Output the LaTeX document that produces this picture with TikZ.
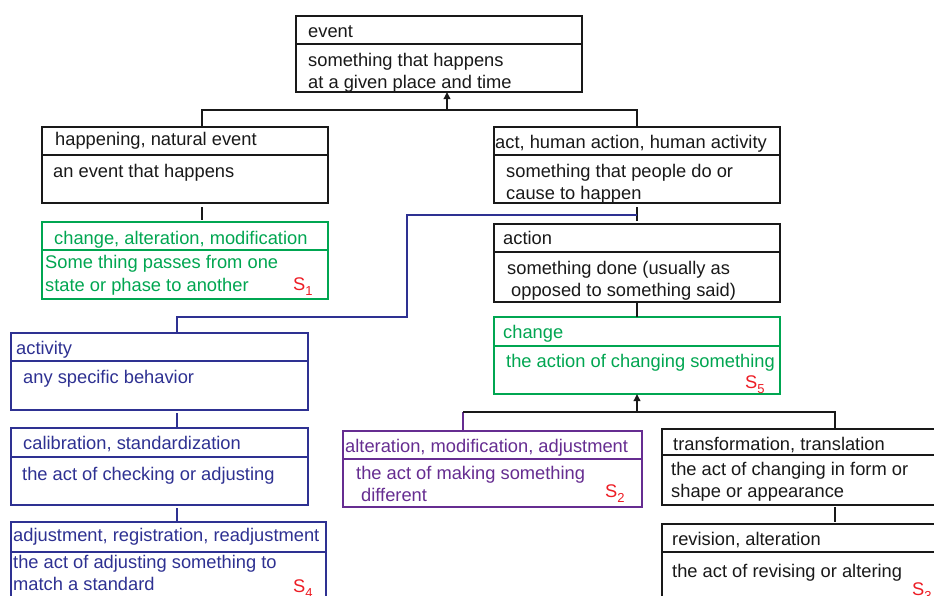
\documentclass[tikz,border=0pt]{standalone}
\usepackage{fontspec}
\setmainfont{Liberation Sans}
\usetikzlibrary{arrows.meta}

\definecolor{inkblack}{RGB}{25,25,25}
\definecolor{leafgreen}{RGB}{0,166,81}
\definecolor{navy}{RGB}{46,49,146}
\definecolor{plum}{RGB}{102,45,145}
\definecolor{sensered}{RGB}{237,28,36}

\tikzset{
  frame/.style={draw=#1, line width=1.2pt, inner sep=0pt, outer sep=0pt, anchor=north west},
  rule/.style={draw=#1, line width=1.2pt},
  lbl/.style={text=#1, font=\fontsize{18.3}{22}\selectfont, inner sep=0pt, anchor=base west},
  sense/.style={text=sensered, font=\fontsize{18.3}{22}\selectfont, inner sep=0pt, anchor=base west},
  conn/.style={draw=#1, line width=1.8pt},
  conn/.default=inkblack,
  uptip/.style={-{Triangle[length=7pt,width=6.5pt]}}
}

% a two-part gloss box: name, colour, left, top, right, bottom, divider
\newcommand\glossbox[7]{%
  \node[frame=#2, minimum width={(#5-#3)*1pt}, minimum height={(#6-#4)*1pt}] (#1) at (#3,#4) {};
  \draw[rule=#2] (#1.north west |- 0,#7) -- (#1.north east |- 0,#7);
}
% sense number S with a lowered index
\newcommand\sensemark[1]{S\raisebox{-5pt}{\fontsize{13}{13}\selectfont #1}}

\begin{document}
\begin{tikzpicture}[x=1pt,y=-1pt]
\useasboundingbox (0,0) rectangle (934,595);
\clip (0,0) rectangle (934,595);
\fill[white] (0,0) rectangle (934,595);

% boxes
\glossbox{event}{inkblack}{296}{16}{582}{92}{44}
\glossbox{happening}{inkblack}{42}{127}{328}{203}{155}
\glossbox{changeA}{leafgreen}{42}{222}{328}{299}{250}
\glossbox{act}{inkblack}{494}{127}{780}{203}{155}
\glossbox{action}{inkblack}{494}{224}{780}{302}{252}
\glossbox{changeB}{leafgreen}{494}{317}{780}{394}{346}
\glossbox{alteration}{plum}{343}{431}{642}{507}{459}
\glossbox{transform}{inkblack}{662}{429}{950}{505}{455}
\glossbox{revision}{inkblack}{662}{524}{950}{620}{552}
\glossbox{activity}{navy}{11}{333}{308}{410}{361}
\glossbox{calibration}{navy}{11}{428}{308}{505}{457}
\glossbox{adjustment}{navy}{11}{522}{326}{620}{552}

% texts
\node[lbl=inkblack] (event-t) at (308,37) {event};
\node[lbl=inkblack] (event-d1) at (308,66) {something that happens};
\node[lbl=inkblack] (event-d2) at (308,88) {at a given place and time};

\node[lbl=inkblack] (happening-t) at (55,145) {happening, natural event};
\node[lbl=inkblack] (happening-d) at (53,177) {an event that happens};

\node[lbl=leafgreen] (changeA-t) at (54,244) {change, alteration, modification};
\node[lbl=leafgreen] (changeA-d1) at (45,268) {Some thing passes from one};
\node[lbl=leafgreen] (changeA-d2) at (45,291) {state or phase to another};
\node[sense] (s1) at (293,290) {\sensemark{1}};

\node[lbl=inkblack] (act-t) at (495,148) {act, human action, human activity};
\node[lbl=inkblack] (act-d1) at (506,177) {something that people do or};
\node[lbl=inkblack] (act-d2) at (506,199) {cause to happen};

\node[lbl=inkblack] (action-t) at (503,244) {action};
\node[lbl=inkblack] (action-d1) at (507,274) {something done (usually as};
\node[lbl=inkblack] (action-d2) at (511,296) {opposed to something said)};

\node[lbl=leafgreen] (changeB-t) at (503,338) {change};
\node[lbl=leafgreen] (changeB-d) at (506,367) {the action of changing something};
\node[sense] (s5) at (745,388) {\sensemark{5}};

\node[lbl=plum] (alteration-t) at (345,452) {alteration, modification, adjustment};
\node[lbl=plum] (alteration-d1) at (356,479) {the act of making something};
\node[lbl=plum] (alteration-d2) at (361,501) {different};
\node[sense] (s2) at (605,497) {\sensemark{2}};

\node[lbl=inkblack] (transform-t) at (673,450) {transformation, translation};
\node[lbl=inkblack] (transform-d1) at (671,475) {the act of changing in form or};
\node[lbl=inkblack] (transform-d2) at (671,497) {shape or appearance};

\node[lbl=inkblack] (revision-t) at (672,545) {revision, alteration};
\node[lbl=inkblack] (revision-d) at (672,577) {the act of revising or altering};
\node[sense] (s3) at (912,595) {\sensemark{3}};

\node[lbl=navy] (activity-t) at (16,354) {activity};
\node[lbl=navy] (activity-d) at (23,383) {any specific behavior};

\node[lbl=navy] (calibration-t) at (23,449) {calibration, standardization};
\node[lbl=navy] (calibration-d) at (22,480) {the act of checking or adjusting};

\node[lbl=navy] (adjustment-t) at (13,541) {adjustment, registration, readjustment};
\node[lbl=navy] (adjustment-d1) at (13,568) {the act of adjusting something to};
\node[lbl=navy] (adjustment-d2) at (13,590) {match a standard};
\node[sense] (s4) at (293,592) {\sensemark{4}};

% junction points of the connectors
\coordinate (hubL) at (202,110);
\coordinate (hubR) at (637,110);
\coordinate (hubUp) at (447,110);
\coordinate (blueFork) at (637,215);
\coordinate (blueKnee) at (407,317);
\coordinate (leftTrunk) at (177,0);
\coordinate (lowL) at (463,412);
\coordinate (lowR) at (835,412);
\coordinate (lowUp) at (637,412);

% upper hierarchy
\draw[conn] (happening.north -| hubL) -- (hubL) -- (hubR) -- (act.north);
\draw[conn, uptip] (hubUp) -- (event.south -| hubUp);
\draw[conn, shorten <=4pt, shorten >=2pt] (happening.south -| hubL) -- (changeA.north -| hubL);
\draw[conn, shorten <=4pt, shorten >=3pt] (act.south) -- (action.north);
\draw[conn] (action.south) -- (changeB.north);

% branch to the activity chain
\draw[conn=navy] (blueFork) -| (blueKnee) -| (activity.north -| leftTrunk);
\draw[conn=navy, shorten <=3pt, shorten >=1pt] (activity.south -| leftTrunk) -- (calibration.north -| leftTrunk);
\draw[conn=navy, shorten <=3pt] (calibration.south -| leftTrunk) -- (adjustment.north -| leftTrunk);

% lower hierarchy
\draw[conn=plum] (alteration.north -| lowL) -- (lowL);
\draw[conn] (lowL) -- (lowR) -- (transform.north -| lowR);
\draw[conn, uptip] (lowUp) -- (changeB.south);
\draw[conn, shorten <=2pt, shorten >=2pt] (transform.south -| lowR) -- (revision.north -| lowR);
\end{tikzpicture}
\end{document}
